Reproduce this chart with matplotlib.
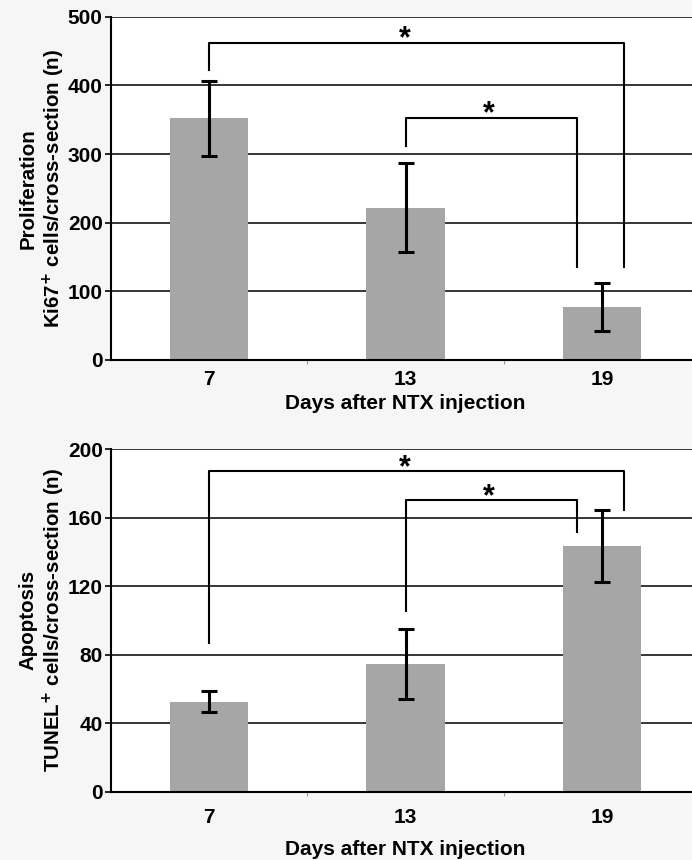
import matplotlib
matplotlib.use("Agg")
import matplotlib.pyplot as plt

plt.rcParams['font.family'] = ['Liberation Sans', 'DejaVu Sans']
plt.rcParams['font.weight'] = 'bold'

categories = ["7", "13", "19"]
prolif_values = [352, 222, 77]
prolif_err = [55, 65, 35]
apopt_values = [52.5, 74.5, 143.5]
apopt_err = [6, 20.5, 21]

# brackets: (x_left, x_right, y_bar, y_left_end, y_right_end)
prolif_brackets = [(0, 2.113, 461, 423, 136), (1, 1.875, 352, 312, 136)]
apopt_brackets = [(0, 2.113, 187.2, 86.6, 164.4), (1, 1.875, 170.3, 105.5, 151.4)]

BG = "#f6f6f6"
BAR = "#a6a6a6"

fig = plt.figure(figsize=(6.92, 8.6), dpi=100, facecolor=BG)


def panel(rect, values, err, ymax, yticks, ylabel, brackets, star_dy,
          tickpad, xlabpad):
    ax = fig.add_axes(rect)
    ax.set_facecolor("white")
    x = list(range(len(categories)))
    ax.set_xlim(-0.5, 2.5)
    ax.set_ylim(0, ymax)
    ax.set_yticks(yticks)
    ax.yaxis.grid(True, color="black", linewidth=1.1, zorder=0)
    ax.set_axisbelow(True)
    ax.bar(x, values, width=0.4, color=BAR, zorder=2)
    ax.errorbar(x, values, yerr=err, fmt="none", ecolor="black",
                elinewidth=2.2, capsize=6, capthick=2.2, zorder=3)
    for (xl, xr, yb, yl, yr) in brackets:
        ax.plot([xl, xl, xr, xr], [yl, yb, yb, yr], color="black",
                linewidth=1.5, zorder=4, clip_on=False)
        ax.text((xl + xr) / 2 - 0.06 * (1 if xl == 0 else 0.2), yb + star_dy, "*",
                ha="center", va="center", fontsize=22, fontweight="bold", zorder=5)
    for s in ["top", "right"]:
        ax.spines[s].set_visible(False)
    ax.spines["left"].set_linewidth(1.5)
    ax.spines["bottom"].set_linewidth(1.5)
    ax.set_xticks(x)
    ax.set_xticklabels(categories, fontsize=15, fontweight="bold")
    ax.set_xticks([0.5, 1.5], minor=True)
    ax.tick_params(axis="x", which="major", length=0, pad=tickpad)
    ax.tick_params(axis="x", which="minor", length=3, color="#999999", width=0.8)
    ax.tick_params(axis="y", length=4, width=1.2, labelsize=15, pad=2)
    for lab in ax.get_yticklabels():
        lab.set_fontweight("bold")
    ax.set_ylabel(ylabel, fontsize=14.8, fontweight="bold", labelpad=1,
                  linespacing=1.15)
    ax.set_xlabel("Days after NTX injection", fontsize=15, fontweight="bold",
                  labelpad=xlabpad)
    return ax


panel([0.1604, 0.5814, 0.8512, 0.3992], prolif_values, prolif_err, 500,
      [0, 100, 200, 300, 400, 500],
      "Proliferation\nKi67$^{+}$ cells/cross-section (n)", prolif_brackets, 6,
      7, 4)
panel([0.1604, 0.0794, 0.8512, 0.3985], apopt_values, apopt_err, 200,
      [0, 40, 80, 120, 160, 200],
      "Apoptosis\nTUNEL$^{+}$ cells/cross-section (n)", apopt_brackets, 1.5,
      12, 9)

fig.savefig("out.png", dpi=100, facecolor=BG)
